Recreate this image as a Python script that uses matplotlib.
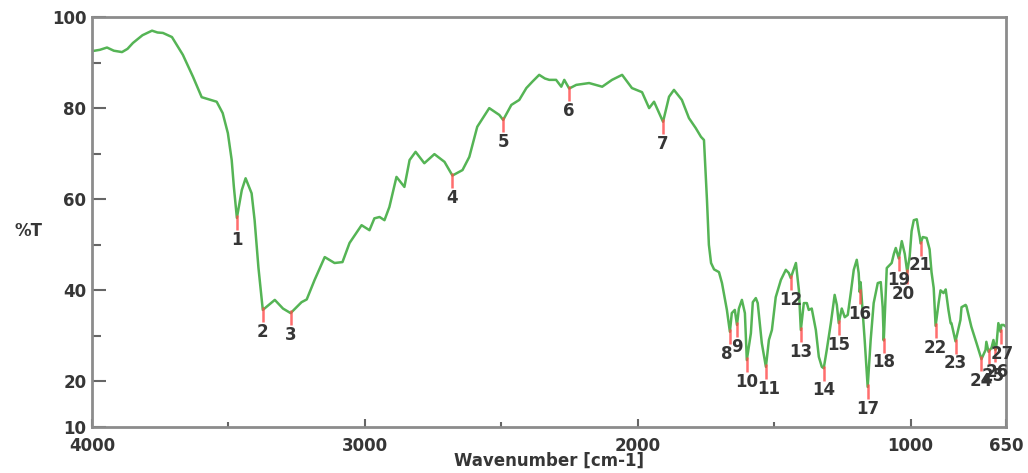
import numpy as np
import matplotlib.pyplot as plt
from matplotlib.ticker import FixedLocator

# FT-IR spectrum: wavenumber (cm-1) and transmittance (%T)
wavenumber = [
    4000, 3971, 3945, 3920, 3890, 3870, 3850, 3815, 3780, 3760, 3740, 3707,
    3667, 3630, 3598, 3576, 3543, 3521, 3502, 3488, 3480, 3469, 3451, 3437,
    3415, 3404, 3390, 3374, 3330, 3300, 3272, 3232, 3213, 3184, 3147, 3111,
    3082, 3056, 3012, 2983, 2965, 2946, 2928, 2910, 2884, 2855, 2836, 2814,
    2782, 2745, 2708, 2679, 2642, 2617, 2588, 2544, 2507, 2493, 2463, 2434,
    2408, 2386, 2361, 2340, 2324, 2299, 2280, 2269, 2251, 2225, 2178, 2130,
    2094, 2057, 2021, 1984, 1958, 1940, 1907, 1885, 1867, 1838, 1812, 1787,
    1768, 1757, 1746, 1739, 1731, 1720, 1702, 1691, 1673, 1662, 1655, 1644,
    1636, 1629, 1618, 1607, 1600, 1585, 1578, 1567, 1560, 1545, 1530, 1519,
    1508, 1494, 1475, 1457, 1446, 1439, 1420, 1409, 1402, 1391, 1380, 1373,
    1362, 1347, 1336, 1325, 1318, 1307, 1292, 1278, 1270, 1263, 1252, 1241,
    1230, 1219, 1208, 1197, 1190, 1186, 1183, 1168, 1157, 1146, 1135, 1120,
    1109, 1102, 1098, 1087, 1069, 1061, 1054, 1043, 1032, 1021, 1012, 1003,
    996, 988, 977, 970, 966, 963, 955, 941, 930, 923, 915, 908, 897, 890,
    879, 871, 861, 853, 850, 835, 817, 813, 798, 795, 777, 758, 740, 725,
    722, 714, 703, 696, 689, 685, 678, 670, 667, 659, 650,
]
transmittance = [
    92.5, 92.8, 93.3, 92.6, 92.3, 93.0, 94.3, 96.0, 97.0, 96.6, 96.5, 95.6,
    91.7, 86.9, 82.4, 82.0, 81.4, 78.9, 74.5, 68.6, 62.7, 55.9, 62.0, 64.6,
    61.3, 55.4, 45.0, 35.7, 37.9, 36.0, 35.0, 37.4, 38.0, 42.3, 47.3, 46.0,
    46.2, 50.4, 54.3, 53.2, 55.8, 56.1, 55.4, 58.3, 64.9, 62.7, 68.6, 70.4,
    67.9, 69.9, 68.2, 65.2, 66.4, 69.3, 75.9, 80.0, 78.5, 77.4, 80.7, 81.8,
    84.4, 85.8, 87.3, 86.5, 86.2, 86.2, 84.7, 86.2, 84.3, 85.1, 85.5, 84.7,
    86.2, 87.3, 84.4, 83.5, 80.0, 81.4, 77.0, 82.5, 84.0, 81.8, 77.8, 75.6,
    73.7, 73.0, 59.8, 50.0, 46.0, 44.6, 44.0, 41.6, 35.7, 30.9, 35.0, 35.7,
    32.4, 36.0, 37.9, 35.0, 24.7, 30.6, 37.4, 38.3, 37.2, 28.4, 23.2, 29.1,
    31.3, 38.5, 42.3, 44.5, 43.8, 42.7, 46.0, 40.0, 31.3, 37.2, 37.2, 35.7,
    36.0, 31.3, 25.4, 23.2, 22.9, 26.9, 32.8, 39.0, 36.8, 32.8, 36.0, 34.1,
    34.6, 39.4, 44.5, 46.7, 43.8, 39.6, 41.8, 29.1, 18.8, 29.1, 37.2, 41.6,
    41.8, 36.3, 29.0, 44.9, 46.0, 48.0, 49.3, 47.0, 50.8, 48.0, 44.0, 47.5,
    53.0, 55.4, 55.6, 53.0, 51.7, 50.3, 51.7, 51.5, 49.0, 44.0, 40.5, 32.2,
    37.2, 40.0, 39.4, 40.2, 35.7, 32.8, 32.8, 28.8, 33.5, 36.3, 36.8, 36.5,
    32.0, 28.4, 24.9, 26.9, 28.7, 26.5, 27.4, 29.1, 26.9, 28.0, 32.8, 30.9,
    32.4, 32.4, 32.0,
]

# Picked peaks (cm-1) and their numbers
peak_wavenumbers = [
    3469, 3374, 3272, 2679, 2493, 2251, 1907, 1662, 1636, 1600, 1530, 1439,
    1402, 1318, 1263, 1186, 1157, 1098, 1043, 1012, 963, 908, 835, 740, 714,
    689, 670,
]
peak_labels = [str(i) for i in range(1, len(peak_wavenumbers) + 1)]

x_tick_values = [4000, 3000, 2000, 1000, 650]
y_tick_values = [10, 20, 40, 60, 80, 100]

# small pixel nudges for crowded peak numbers
label_nudge = {"8": (-3, 0), "11": (3, 0), "20": (-4, 0),
               "25": (5, -2), "26": (2, 0), "27": (2, 0)}

text_color = "#363636"
axis_color = "#8c8c8c"
line_color = "#55b455"
mark_color = "#ff4a4a"
font = dict(fontsize=12, fontweight="bold", color=text_color)

fig = plt.figure(figsize=(10.28, 4.73), dpi=100)
ax = fig.add_axes([92 / 1028, 46 / 473, 914 / 1028, 410 / 473])

wn = np.array(wavenumber, dtype=float)
tr = np.array(transmittance, dtype=float)
ax.plot(wn, tr, color=line_color, lw=1.8, zorder=2)

# peak markers and numbers
pk_w = np.array(peak_wavenumbers, dtype=float)
pk_t = np.interp(pk_w, wn[::-1], tr[::-1])
ax.vlines(pk_w, pk_t - 2.7, pk_t + 0.6, colors=mark_color, lw=1.8,
          alpha=0.8, zorder=3)
for w, t, lab in zip(pk_w, pk_t, peak_labels):
    dx, dy = label_nudge.get(lab, (0, 0))
    ax.annotate(lab, (w, t), xytext=(dx, -22 + dy), textcoords="offset pixels",
                ha="center", va="center", zorder=4, **font)

ax.set_xlim(4000, 650)
ax.set_ylim(10, 100)
ax.set_xticks(x_tick_values)
ax.set_xticklabels([str(v) for v in x_tick_values])
ax.set_yticks(y_tick_values)
ax.set_yticklabels([str(v) for v in y_tick_values])
ax.xaxis.set_minor_locator(FixedLocator([3500, 2500, 1500]))
ax.yaxis.set_minor_locator(FixedLocator([30, 50, 70, 90]))

ax.tick_params(axis="x", which="major", direction="in", length=6, width=1.5,
               color="#666666", pad=7)
ax.tick_params(axis="x", which="minor", direction="in", length=3.5, width=1.5,
               color="#666666")
ax.tick_params(axis="y", which="major", direction="in", length=10, width=1.5,
               color="#666666", pad=4)
ax.tick_params(axis="y", which="minor", direction="in", length=6.5, width=1.5,
               color="#666666")
for lbl in ax.get_xticklabels() + ax.get_yticklabels():
    lbl.set_fontsize(12)
    lbl.set_fontweight("bold")
    lbl.set_color(text_color)

for side in ["left", "bottom", "top", "right"]:
    ax.spines[side].set_color(axis_color)
    ax.spines[side].set_linewidth(2)

ax.set_xlabel("Wavenumber [cm-1]", labelpad=-2, **font)
ax.set_ylabel("%T", rotation=0, ha="center", va="center", **font)
ax.yaxis.set_label_coords(-0.07, 0.478)

fig.savefig("out.png", dpi=100, facecolor="white")
